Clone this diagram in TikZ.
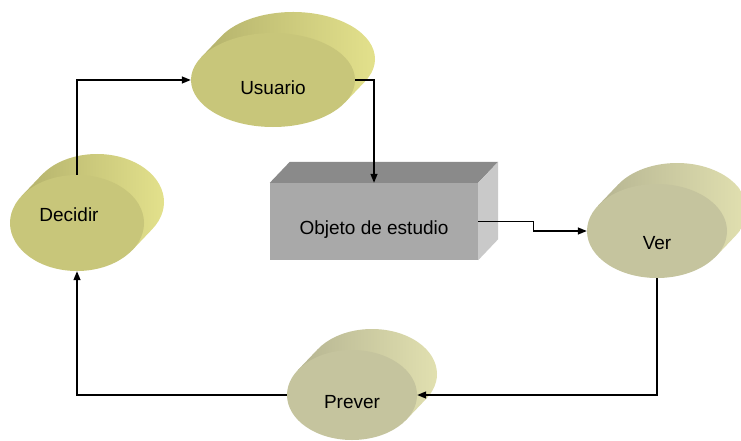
\documentclass[tikz,border=0pt]{standalone}
\usepackage{fontspec}
\setmainfont{Liberation Sans}
\usetikzlibrary{shapes.geometric,arrows.meta,calc}

% extrusion offset of the 3D drums and the box
\def\dx{20}
\def\dy{21}

% #1 name, #2 x, #3 y, #4 x radius, #5 y radius, #6 palette (A or B),
% #7 label, #8 offset of the label from the centre
\newcommand\drum[8]{%
  \pgfmathsetmacro\tlo{atan(-(#5*\dx)/(#4*\dy))}%
  \pgfmathsetmacro\thi{\tlo+180}%
  \shade[back#6] ($(#2,#3)+(\thi:#4 and #5)$) -- ++(\dx,\dy)
     arc[start angle=\thi, end angle=\tlo, x radius=#4, y radius=#5]
     -- ++(-\dx,-\dy) -- cycle;
  \node[ellipse, inner sep=0pt, minimum width=2*#4, minimum height=2*#5,
        face#6] (#1) at (#2,#3) {};
  \node[lbl] (#1-t) at ($(#1)+#8$) {#7};
}

\definecolor{oliveFace}{HTML}{C8C67A}
\definecolor{oliveSide}{HTML}{B4B26C}
\definecolor{oliveDark}{HTML}{98965A}
\definecolor{oliveLight}{HTML}{E6E48E}
\definecolor{khakiFace}{HTML}{C5C49E}
\definecolor{khakiSide}{HTML}{B6B592}
\definecolor{khakiDark}{HTML}{9C9B7C}
\definecolor{khakiLight}{HTML}{E4E3B2}
\definecolor{boxTop}{HTML}{8A8A8A}
\definecolor{boxFront}{HTML}{A9A9A9}
\definecolor{boxSide}{HTML}{C9C9C9}

\tikzset{
  lbl/.style={font=\fontsize{19}{22}\selectfont, inner sep=0pt},
  faceA/.style={fill=oliveFace},
  faceB/.style={fill=khakiFace},
  backA/.style={left color=oliveSide, middle color=oliveDark, right color=oliveLight},
  backB/.style={left color=khakiSide, middle color=khakiDark, right color=khakiLight},
  link/.style={line width=1.3pt, -{Triangle[length=9pt,width=7pt]}},
}

\begin{document}
\begin{tikzpicture}[x=1pt,y=1pt]
\useasboundingbox (0,0) rectangle (741,440);

% cylinders
\drum{u}{273}{360}{82}{47}{A}{Usuario}{(0,-8)}
\drum{d}{77}{217}{67}{48}{A}{Decidir}{(-8,8)}
\drum{v}{657}{209}{70}{47}{B}{Ver}{(0,-12)}
\drum{p}{352}{45}{65}{45}{B}{Prever}{(0,-7)}

% box
\node[rectangle, inner sep=0pt, minimum width=208, minimum height=77,
      fill=boxFront] (b) at (374,218.5) {};
\fill[boxTop] (b.north west) -- ++(\dx,\dy) -- ($(b.north east)+(\dx,\dy)$)
   -- (b.north east) -- cycle;
\fill[boxSide] (b.north east) -- ++(\dx,\dy) -- ($(b.south east)+(\dx,\dy)$)
   -- (b.south east) -- cycle;
\node[lbl] (b-t) at ($(b)+(0,-8.5)$) {Objeto de estudio};

% connectors
\draw[link] (d.north) |- (u.west);
\draw[link] (u.east) -| (b.north);
\draw[link] (b.east) -- ++(55,0) |- (v.west);
\draw[link] (v.south) |- (p.east);
\draw[link] (p.west) -| (d.south);
\end{tikzpicture}
\end{document}
